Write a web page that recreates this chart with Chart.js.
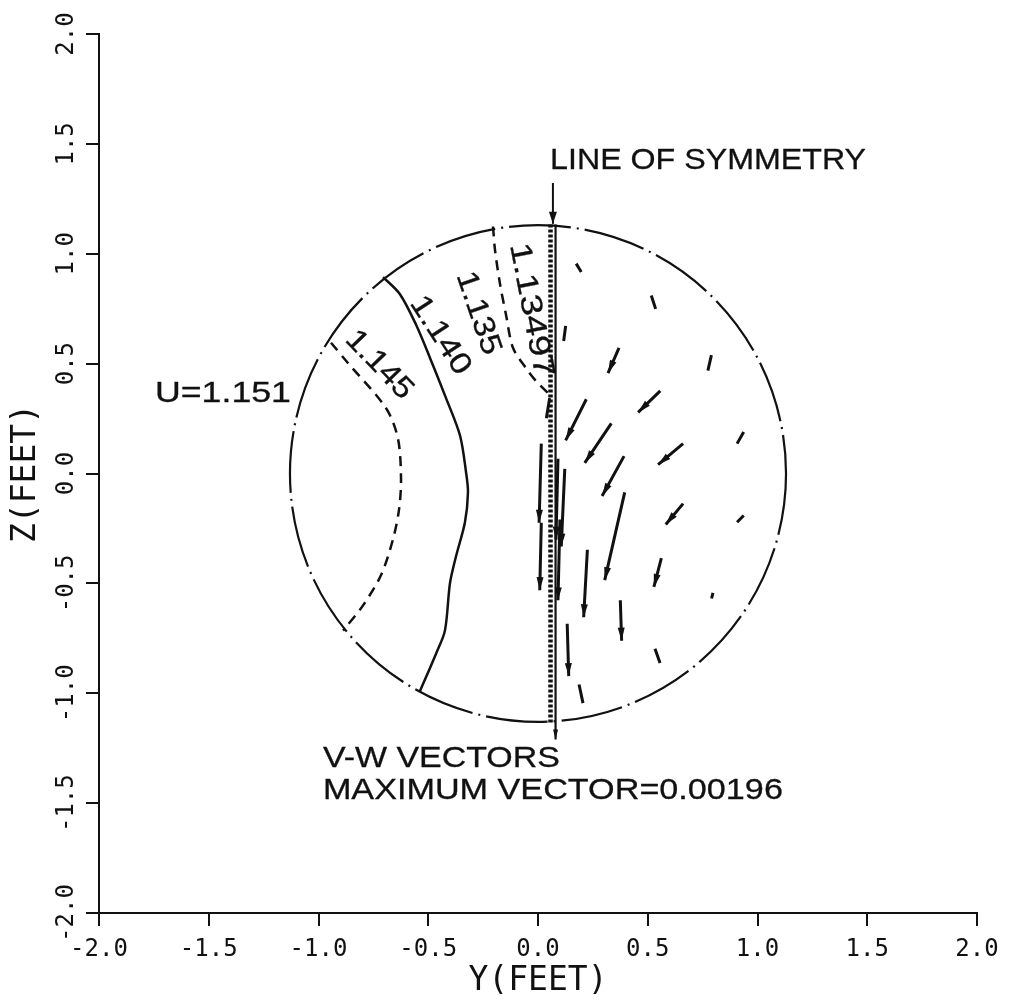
<!doctype html>
<html>
<head>
<meta charset="utf-8"/>
<title>V-W vectors</title>
<style>
  html, body { margin: 0; padding: 0; background: #fff; }
  #wrap { width: 1019px; height: 1004px; }
</style>
</head>
<body>
<div id="wrap"><canvas id="myChart" width="1019" height="1004"></canvas></div>
<script src="https://cdn.jsdelivr.net/npm/chart.js@4.4.0/dist/chart.umd.min.js"></script>
<script>
// tick values, both axes (feet)
var tickValues = [-2.0, -1.5, -1.0, -0.5, 0.0, 0.5, 1.0, 1.5, 2.0];

// outer boundary U=1.151 (centre and radius, feet)
var boundaryCentre = [0.0, 0.0];
var boundaryRadius = 1.13;

// contour U=1.145 (dashed)
var c145Y = [-0.943, -0.866, -0.692, -0.638, -0.624, -0.633, -0.661, -0.715, -0.797, -0.888];
var c145Z = [0.595, 0.503, 0.297, 0.159, -0.025, -0.163, -0.301, -0.462, -0.600, -0.715];

// contour U=1.140 (solid)
var c140Y = [-0.706, -0.629, -0.556, -0.492, -0.419, -0.355, -0.328, -0.319, -0.333, -0.374, -0.401, -0.424, -0.465, -0.538];
var c140Z = [0.894, 0.816, 0.678, 0.526, 0.343, 0.172, 0.007, -0.085, -0.223, -0.379, -0.499, -0.715, -0.821, -0.991];

// contour U=1.135 (dashed)
var c135Y = [-0.205, -0.196, -0.173, -0.146, -0.114, -0.055, -0.009, 0.046];
var c135Z = [1.124, 1.018, 0.862, 0.724, 0.572, 0.480, 0.421, 0.366];

// contour U=1.13497 (dotted, on the symmetry line)
var c13497Y = [0.057, 0.057];
var c13497Z = [1.133, -1.133];

// line of symmetry
var symY = [0.080, 0.080];
var symZ = [1.133, -1.21];

// V-W vectors: tail (Y0,Z0) -> head (Y1,Z1)
var vecY0 = [0.174, 0.516, 0.126, 0.369, 0.790, 0.557, 0.220, 0.334, 0.937, 0.661, 0.392, 0.661, 0.937, 0.395, 0.562, 0.797, 0.225, 0.375, 0.133, 0.187, 0.533, 0.015, 0.015, 0.122, 0.053, 0.091, 0.100];
var vecZ0 = [0.955, 0.810, 0.672, 0.572, 0.539, 0.376, 0.338, 0.228, 0.189, 0.136, 0.079, -0.137, -0.191, -0.086, -0.385, -0.543, -0.347, -0.577, -0.684, -0.960, -0.798, 0.136, -0.224, 0.021, 0.343, 0.067, -0.209];
var vecY1 = [0.197, 0.536, 0.117, 0.319, 0.774, 0.456, 0.126, 0.213, 0.907, 0.547, 0.292, 0.582, 0.907, 0.304, 0.528, 0.791, 0.208, 0.381, 0.140, 0.205, 0.556, 0.005, 0.008, 0.106, 0.038, 0.082, 0.091];
var vecZ1 = [0.917, 0.749, 0.603, 0.457, 0.468, 0.278, 0.151, 0.048, 0.136, 0.040, -0.102, -0.232, -0.222, -0.485, -0.516, -0.569, -0.654, -0.761, -0.922, -1.045, -0.862, -0.224, -0.531, -0.332, 0.251, -0.301, -0.577];

// pointer from the "LINE OF SYMMETRY" note to the circle
var pointerY = [0.068, 0.068];
var pointerZ = [1.322, 1.136];

function pts(xs, ys) {
    return xs.map(function (v, i) { return { x: v, y: ys[i] }; });
}

var vecPts = [];
for (var i = 0; i < vecY0.length; i++) {
    vecPts.push({ x: vecY0[i], y: vecZ0[i] });
    vecPts.push({ x: vecY1[i], y: vecZ1[i] });
    vecPts.push({ x: NaN, y: NaN });
}

var INK = '#111';
var SANS = '"Liberation Sans", Arial, sans-serif';
var MONO = '"DejaVu Sans Mono", monospace';

// notes placed in data units, drawn through the scales
var notes = [
    { text: 'LINE OF SYMMETRY', x: 0.055, y: 1.386, w: 316, rot: 0, align: 'left' },
    { text: 'U=1.151', x: -1.745, y: 0.324, w: 136, rot: 0, align: 'left' },
    { text: 'V-W VECTORS', x: -0.980, y: -1.336, w: 237, rot: 0, align: 'left' },
    { text: 'MAXIMUM VECTOR=0.00196', x: -0.980, y: -1.483, w: 460, rot: 0, align: 'left' },
    { text: '1.145', x: -0.724, y: 0.494, w: 84, rot: 46, align: 'center' },
    { text: '1.140', x: -0.446, y: 0.628, w: 88, rot: 57, align: 'center' },
    { text: '1.135', x: -0.273, y: 0.729, w: 86, rot: 71, align: 'center' },
    { text: '1.13497', x: -0.032, y: 0.743, w: 136, rot: 79, align: 'center' }
];

function head(ctx, x0, y0, x1, y1, len, half) {
    var a = Math.atan2(y1 - y0, x1 - x0);
    var c = Math.cos(a), s = Math.sin(a);
    ctx.beginPath();
    ctx.moveTo(x1, y1);
    ctx.lineTo(x1 - len * c + half * s, y1 - len * s - half * c);
    ctx.lineTo(x1 - len * c - half * s, y1 - len * s + half * c);
    ctx.closePath();
    ctx.fill();
}

var extras = {
    id: 'extras',
    beforeDatasetsDraw: function (chart) {
        var ctx = chart.ctx, sx = chart.scales.x, sy = chart.scales.y;
        var cx = sx.getPixelForValue(boundaryCentre[0]);
        var cy = sy.getPixelForValue(boundaryCentre[1]);
        var rx = Math.abs(sx.getPixelForValue(boundaryCentre[0] + boundaryRadius) - cx);
        var ry = Math.abs(sy.getPixelForValue(boundaryCentre[1] + boundaryRadius) - cy);
        ctx.save();
        ctx.strokeStyle = INK;
        ctx.lineWidth = 2.2;
        ctx.setLineDash([62, 6, 2, 6]);
        ctx.beginPath();
        ctx.ellipse(cx, cy, rx, ry, 0, 0, Math.PI * 2);
        ctx.stroke();
        ctx.restore();
    },
    afterDatasetsDraw: function (chart) {
        var ctx = chart.ctx, sx = chart.scales.x, sy = chart.scales.y;
        ctx.save();
        ctx.fillStyle = INK;
        ctx.strokeStyle = INK;
        // vector heads
        for (var i = 0; i < vecY0.length; i++) {
            var x0 = sx.getPixelForValue(vecY0[i]), y0 = sy.getPixelForValue(vecZ0[i]);
            var x1 = sx.getPixelForValue(vecY1[i]), y1 = sy.getPixelForValue(vecZ1[i]);
            var L = Math.hypot(x1 - x0, y1 - y0);
            if (L >= 25) head(ctx, x0, y0, x1, y1, 13, 3.5);
        }
        // bottom end of the symmetry line
        head(ctx, sx.getPixelForValue(symY[0]), sy.getPixelForValue(symZ[0]),
            sx.getPixelForValue(symY[1]), sy.getPixelForValue(symZ[1]), 10, 2.5);
        // pointer arrow
        var px0 = sx.getPixelForValue(pointerY[0]), py0 = sy.getPixelForValue(pointerZ[0]);
        var px1 = sx.getPixelForValue(pointerY[1]), py1 = sy.getPixelForValue(pointerZ[1]);
        ctx.lineWidth = 2;
        ctx.beginPath(); ctx.moveTo(px0, py0); ctx.lineTo(px1, py1); ctx.stroke();
        head(ctx, px0, py0, px1, py1, 12, 4);
        // notes
        ctx.font = '30px ' + SANS;
        ctx.lineWidth = 0.3;
        notes.forEach(function (n) {
            var x = sx.getPixelForValue(n.x), y = sy.getPixelForValue(n.y);
            var w = ctx.measureText(n.text).width;
            ctx.save();
            ctx.translate(x, y);
            ctx.rotate(n.rot * Math.PI / 180);
            ctx.scale(n.w / w, 1);
            ctx.textAlign = n.align;
            ctx.textBaseline = n.align === 'center' ? 'middle' : 'alphabetic';
            ctx.fillText(n.text, 0, 0);
            ctx.strokeText(n.text, 0, 0);
            ctx.restore();
        });
        ctx.restore();
    }
};

function lineSet(xs, ys, width, dash) {
    return {
        data: pts(xs, ys),
        showLine: true,
        borderColor: INK,
        borderWidth: width,
        borderDash: dash,
        pointRadius: 0,
        fill: false,
        tension: 0.3
    };
}

var vectors = lineSet([], [], 3, []);
vectors.data = vecPts;
vectors.tension = 0;
vectors.spanGaps = false;

var symSet = lineSet(symY, symZ, 2.2, []);
symSet.tension = 0;
var dotSet = lineSet(c13497Y, c13497Z, 4.5, [3, 2]);
dotSet.tension = 0;

var config = {
    type: 'scatter',
    data: {
        datasets: [
            lineSet(c145Y, c145Z, 2.5, [10, 7]),
            lineSet(c140Y, c140Z, 2.5, []),
            lineSet(c135Y, c135Z, 2.5, [10, 7]),
            dotSet,
            symSet,
            vectors
        ]
    },
    options: {
        responsive: false,
        animation: false,
        devicePixelRatio: 1,
        layout: { padding: { left: 0, top: 34, right: 42, bottom: 0 } },
        plugins: { legend: { display: false }, tooltip: { enabled: false } },
        scales: {
            x: {
                type: 'linear', min: -2, max: 2,
                afterFit: function (s) { s.height = 91; },
                afterBuildTicks: function (s) { s.ticks = tickValues.map(function (v) { return { value: v }; }); },
                grid: { display: true, drawOnChartArea: false, drawTicks: true, tickLength: 13, tickColor: INK, lineWidth: 2 },
                border: { display: true, color: INK, width: 2 },
                ticks: {
                    color: INK, padding: 9, maxRotation: 0, autoSkip: false,
                    font: { family: MONO, size: 24 },
                    callback: function (v) { return Number(v).toFixed(1); }
                },
                title: { display: true, text: 'Y(FEET)', color: INK, font: { family: MONO, size: 33 }, padding: { top: 0, bottom: 3 } }
            },
            y: {
                type: 'linear', min: -2, max: 2,
                afterFit: function (s) { s.width = 99; },
                afterBuildTicks: function (s) { s.ticks = tickValues.map(function (v) { return { value: v }; }); },
                grid: { display: true, drawOnChartArea: false, drawTicks: true, tickLength: 13, tickColor: INK, lineWidth: 2 },
                border: { display: true, color: INK, width: 2 },
                ticks: {
                    color: INK, padding: -10, minRotation: 90, maxRotation: 90, crossAlign: 'center', autoSkip: false,
                    font: { family: MONO, size: 24 },
                    callback: function (v) { return Number(v).toFixed(1); }
                },
                title: { display: true, text: 'Z(FEET)', color: INK, font: { family: MONO, size: 33 }, padding: { top: 7, bottom: 0 } }
            }
        }
    },
    plugins: [extras]
};

var myChart = new Chart(document.getElementById('myChart'), config);
</script>
</body>
</html>
